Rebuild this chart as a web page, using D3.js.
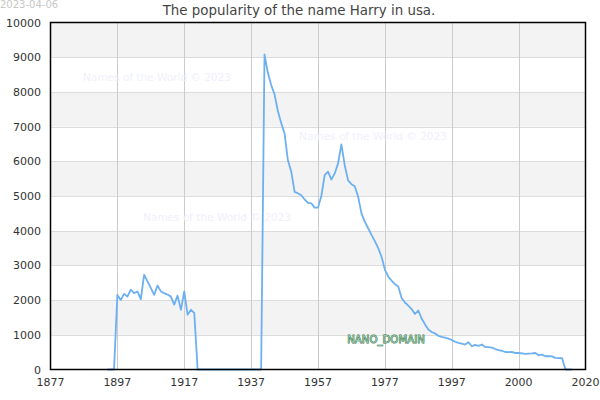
<!DOCTYPE html>
<html><head><meta charset="utf-8">
<script src="https://cdn.jsdelivr.net/npm/d3@7"></script>
<style>body{margin:0;background:#fff}svg{display:block;font-family:"DejaVu Sans",sans-serif}</style>
</head><body><svg id="c" width="600" height="400"></svg>
<script>
const titleText = "The popularity of the name Harry in usa.";
const dateText = "2023-04-06";
const watermark = "Names of the World © 2023";
const xTickPos = [0, 20, 40, 60, 80, 100, 120, 140, 160];
const xTickLabels = ["1877","1897","1917","1937","1957","1977","1997","2000","2020"];
const yTicks = [0,1000,2000,3000,4000,5000,6000,7000,8000,9000,10000];
const firstIndex = 17;
const counts = [
 0,0,0,2150,2000,2180,2100,2300,2200,2250,2030,2730,2540,2350,2150,2420,2250,2200,2160,2100,
 1870,2130,1720,2250,1580,1720,1630,
 0,0,0,0,0,0,0,0,0,0,0,0,0,0,0,0,0,0,0,0,
 9080,8550,8200,7930,7450,7100,6800,6030,5700,5120,5080,5020,4900,4800,4790,4665,4665,5000,5600,5700,
 5470,5650,5940,6490,5880,5450,5340,5280,4980,4500,4260,4070,3880,3700,3500,3250,2880,2680,2560,2460,
 2390,2060,1930,1840,1740,1600,1700,1470,1300,1150,1080,1040,970,940,920,890,850,800,766,745,
 720,785,670,710,680,720,645,645,630,590,560,540,505,500,505,475,475,465,450,458,
 465,475,410,430,382,382,380,335,330,325,0,0,0
];
const idx = d3.range(firstIndex, firstIndex + counts.length);

const svg = d3.select("#c");
const L = 50.5, R = 585.5, T = 22.5, B = 369.5;
const x = d3.scaleLinear().domain([0,160]).range([L,R]);
const y = d3.scaleLinear().domain([0,10000]).range([B,T]);

// bands
const bands = d3.range(1000, 10000, 2000);
svg.append("g").selectAll("rect").data(bands).join("rect")
  .attr("x", L).attr("width", R-L)
  .attr("y", d => y(d+1000)).attr("height", d => y(d)-y(d+1000))
  .attr("fill", "#f3f3f3");

// grid
svg.append("g").selectAll("line").data(yTicks.slice(1,-1)).join("line")
  .attr("x1", L).attr("x2", R).attr("y1", d=>Math.round(y(d))+0.5).attr("y2", d=>Math.round(y(d))+0.5)
  .attr("stroke", "#dcdcdc");
svg.append("g").selectAll("line").data(xTickPos.slice(1,-1)).join("line")
  .attr("y1", T).attr("y2", B).attr("x1", d=>Math.round(x(d))+0.5).attr("x2", d=>Math.round(x(d))+0.5)
  .attr("stroke", "#cccccc");

// watermarks
const wm = [[157,81],[373,140],[217,221]];
svg.append("g").selectAll("text").data(wm).join("text")
  .attr("x", d=>d[0]).attr("y", d=>d[1]).attr("text-anchor","middle")
  .attr("font-size", 10.5).attr("fill", "#f0f0fb").text(watermark);

// line
const line = d3.line().x((d,i)=>x(idx[i])).y(d=>y(d));
svg.append("path").datum(counts).attr("d", line)
  .attr("fill","none").attr("stroke","#6cb0f2").attr("stroke-width",1.8).attr("stroke-linejoin","round");

// border
svg.append("rect").attr("x",L).attr("y",T).attr("width",R-L).attr("height",B-T)
  .attr("fill","none").attr("stroke","#000").attr("stroke-width",1.5);

// axes labels
svg.append("g").selectAll("text").data(yTicks).join("text")
  .attr("x", 41).attr("y", d=>y(d)+4).attr("text-anchor","end")
  .attr("font-size", 11).attr("fill","#333").text(d=>d);
svg.append("g").selectAll("text").data(xTickPos).join("text")
  .attr("x", d=>x(d)).attr("y", 386).attr("text-anchor","middle")
  .attr("font-size", 11).attr("fill","#333").text((d,i)=>xTickLabels[i]);

// title & date
svg.append("text").attr("x", 299).attr("y", 15).attr("text-anchor","middle")
  .attr("font-size", 13.4).attr("fill","#444").text(titleText);
svg.append("text").attr("x", 0).attr("y", 8).attr("font-size", 10).attr("fill","#c8c8c8").text(dateText);

// nano domain label
svg.append("text").attr("x", 386).attr("y", 343).attr("text-anchor","middle")
  .attr("font-size", 10.2).attr("fill","#96c8a6").attr("stroke","#2f6a42").attr("stroke-width",0.8)
  .attr("paint-order","stroke").text("NANO_DOMAIN");
</script></body></html>
